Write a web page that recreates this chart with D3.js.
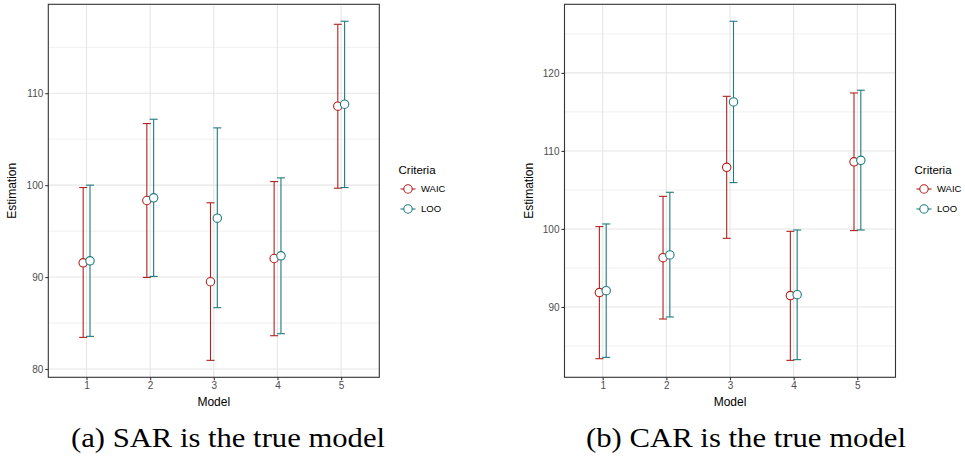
<!DOCTYPE html>
<html>
<head>
<meta charset="utf-8">
<script src="https://cdn.jsdelivr.net/npm/d3@7"></script>
<style>
  body { margin: 0; background: #fff; }
  svg { display: block; }
  text { font-family: "Liberation Sans", Arial, sans-serif; font-weight: normal; }
</style>
</head>
<body>
<div id="chart"></div>
<script>
// data
var models = [1, 2, 3, 4, 5];
var criteria = ["WAIC", "LOO"];

// (a) SAR is the true model
var sarWaicEst = [91.55, 98.33, 89.49, 92.02, 108.59];
var sarWaicLo  = [83.44, 89.96, 80.94, 83.62, 99.67];
var sarWaicHi  = [99.74, 106.70, 98.08, 100.39, 117.50];
var sarLooEst  = [91.77, 98.62, 96.41, 92.31, 108.80];
var sarLooLo   = [83.55, 90.07, 86.67, 83.84, 99.74];
var sarLooHi   = [100.00, 107.17, 106.23, 100.79, 117.83];

// (b) CAR is the true model
var carWaicEst = [91.84, 96.32, 107.90, 91.46, 108.60];
var carWaicLo  = [83.37, 88.46, 98.80, 83.16, 99.79];
var carWaicHi  = [100.30, 104.18, 117.00, 99.70, 117.43];
var carLooEst  = [92.09, 96.67, 116.28, 91.58, 108.80];
var carLooLo   = [83.54, 88.72, 105.94, 83.25, 99.87];
var carLooHi   = [100.64, 104.70, 126.62, 99.87, 117.78];

var sarTicks = [80, 90, 100, 110];
var carTicks = [90, 100, 110, 120];
var captions = ["(a) SAR is the true model", "(b) CAR is the true model"];

var colors = {WAIC: "#b0221c", LOO: "#1d7a80"};
var dodge = {WAIC: -0.052, LOO: 0.055};

var svg = d3.select("#chart").append("svg")
  .attr("width", 965)
  .attr("height", 459);

function buildRows(est, lo, hi, crit) {
  return models.map(function(m, i) {
    return {model: m, crit: crit, est: est[i], lo: lo[i], hi: hi[i]};
  });
}

function drawPanel(opt) {
  var rows = buildRows(opt.waic[0], opt.waic[1], opt.waic[2], "WAIC")
    .concat(buildRows(opt.loo[0], opt.loo[1], opt.loo[2], "LOO"));

  var lo = d3.min(rows, function(d) { return d.lo; });
  var hi = d3.max(rows, function(d) { return d.hi; });
  var pad = (hi - lo) * 0.05;

  var x = d3.scaleLinear().domain([0.4, 5.6]).range([opt.left, opt.left + 331]);
  var y = d3.scaleLinear().domain([lo - pad, hi + pad]).range([377.3, 4.3]);

  var g = svg.append("g");

  // minor grid
  var minor = d3.range(Math.ceil((lo - pad) / 5) * 5, hi + pad, 5)
    .filter(function(v) { return v % 10 !== 0; });
  g.selectAll(".minor").data(minor).enter().append("line")
    .attr("x1", x.range()[0]).attr("x2", x.range()[1])
    .attr("y1", function(d) { return y(d); }).attr("y2", function(d) { return y(d); })
    .style("stroke", "#f0f0f0").style("stroke-width", 1);

  // major grid
  g.selectAll(".majorY").data(opt.ticks).enter().append("line")
    .attr("x1", x.range()[0]).attr("x2", x.range()[1])
    .attr("y1", function(d) { return y(d); }).attr("y2", function(d) { return y(d); })
    .style("stroke", "#e6e6e6").style("stroke-width", 1.1);
  g.selectAll(".majorX").data(models).enter().append("line")
    .attr("x1", function(d) { return x(d); }).attr("x2", function(d) { return x(d); })
    .attr("y1", y.range()[0]).attr("y2", y.range()[1])
    .style("stroke", "#e6e6e6").style("stroke-width", 1.1);

  // error bars
  var bars = g.selectAll(".bar").data(rows).enter().append("g")
    .style("stroke", function(d) { return colors[d.crit]; })
    .style("stroke-width", 1.1)
    .style("fill", "none");
  bars.append("line")
    .attr("x1", function(d) { return x(d.model + dodge[d.crit]); })
    .attr("x2", function(d) { return x(d.model + dodge[d.crit]); })
    .attr("y1", function(d) { return y(d.lo); })
    .attr("y2", function(d) { return y(d.hi); });
  ["lo", "hi"].forEach(function(k) {
    bars.append("line")
      .attr("x1", function(d) { return x(d.model + dodge[d.crit]) - 4; })
      .attr("x2", function(d) { return x(d.model + dodge[d.crit]) + 4; })
      .attr("y1", function(d) { return y(d[k]); })
      .attr("y2", function(d) { return y(d[k]); });
  });

  // points
  g.selectAll(".pt").data(rows).enter().append("circle")
    .attr("cx", function(d) { return x(d.model + dodge[d.crit]); })
    .attr("cy", function(d) { return y(d.est); })
    .attr("r", 4.2)
    .style("fill", "#fff")
    .style("stroke", function(d) { return colors[d.crit]; })
    .style("stroke-width", 1.1);

  // panel border
  g.append("rect")
    .attr("x", x.range()[0]).attr("y", y.range()[1])
    .attr("width", x.range()[1] - x.range()[0])
    .attr("height", y.range()[0] - y.range()[1])
    .style("fill", "none").style("stroke", "#333").style("stroke-width", 1.1);

  // axes
  var ax = g.append("g")
    .attr("transform", "translate(0," + y.range()[0] + ")")
    .call(d3.axisBottom(x).tickValues(models).tickFormat(d3.format("d")).tickSize(3).tickPadding(2));
  var ay = g.append("g")
    .attr("transform", "translate(" + x.range()[0] + ",0)")
    .call(d3.axisLeft(y).tickValues(opt.ticks).tickSize(3).tickPadding(2));
  [ax, ay].forEach(function(a) {
    a.select(".domain").remove();
    a.selectAll(".tick line").style("stroke", "#333").style("stroke-width", 1.1);
    a.selectAll(".tick text").style("fill", "#4d4d4d").style("font-size", "10px")
      .style("font-family", "Liberation Sans, Arial, sans-serif");
  });

  // axis titles
  g.append("text")
    .attr("x", x(3)).attr("y", 406)
    .attr("text-anchor", "middle")
    .style("font-size", "12px")
    .text("Model");
  g.append("text")
    .attr("transform", "translate(" + (opt.left - 32) + "," + ((y.range()[0] + y.range()[1]) / 2) + ") rotate(-90)")
    .attr("text-anchor", "middle")
    .style("font-size", "12px")
    .text("Estimation");

  // legend
  var lg = g.append("g").attr("transform", "translate(" + opt.legendX + ",0)");
  lg.append("text").attr("x", 0).attr("y", 174)
    .style("font-size", "11.5px").text("Criteria");
  criteria.forEach(function(c, i) {
    var cy = 189 + i * 20;
    lg.append("line").attr("x1", 2).attr("x2", 17).attr("y1", cy).attr("y2", cy)
      .style("stroke", colors[c]).style("stroke-width", 1.1);
    lg.append("circle").attr("cx", 9.5).attr("cy", cy).attr("r", 4.2)
      .style("fill", "#fff").style("stroke", colors[c]).style("stroke-width", 1.1);
    lg.append("text").attr("x", 22.5).attr("y", cy + 3.3)
      .style("font-size", "9.5px").text(c);
  });

  // caption
  svg.append("text")
    .attr("x", opt.captionX).attr("y", 447)
    .attr("text-anchor", "middle")
    .attr("textLength", opt.captionW)
    .attr("lengthAdjust", "spacingAndGlyphs")
    .style("font-family", "Liberation Serif, Times New Roman, serif")
    .style("font-size", "27px")
    .text(opt.caption);
}

drawPanel({
  left: 48.3, ticks: sarTicks, legendX: 398.5,
  waic: [sarWaicEst, sarWaicLo, sarWaicHi],
  loo: [sarLooEst, sarLooLo, sarLooHi],
  caption: captions[0], captionX: 228, captionW: 314
});
drawPanel({
  left: 564.5, ticks: carTicks, legendX: 914.5,
  waic: [carWaicEst, carWaicLo, carWaicHi],
  loo: [carLooEst, carLooLo, carLooHi],
  caption: captions[1], captionX: 746, captionW: 320
});
</script>
</body>
</html>
